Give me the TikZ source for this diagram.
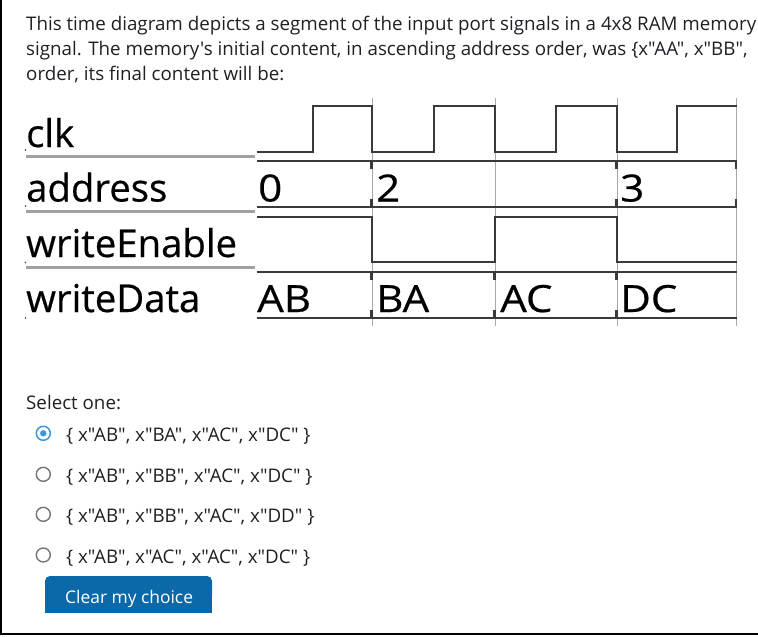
\documentclass[tikz,border=0pt]{standalone}
\usepackage{fontspec}
\setmainfont{Open Sans}[Ligatures=TeXOff]
\definecolor{txt}{HTML}{1D2125}
\definecolor{wavec}{HTML}{3A3A3A}
\definecolor{gridc}{HTML}{A8A8A8}
\definecolor{ulc}{HTML}{A0A0A0}
\definecolor{radioblue}{HTML}{3D97DA}
\definecolor{radiogray}{HTML}{757575}
\definecolor{btn}{HTML}{0B69A9}
\begin{document}
\begin{tikzpicture}[x=1pt,y=-1pt,
  body/.style={font=\fontsize{18.75}{24}\selectfont, text=txt, inner sep=0pt, anchor=base west},
  lbl/.style={font=\fontsize{38.3}{40}\selectfont\addfontfeature{FakeBold=0.5}, text=black, inner sep=0pt, anchor=base west},
  valt/.style={font=\fontsize{37.5}{40}\selectfont\addfontfeature{FakeBold=0.5}, text=black, inner sep=0pt, anchor=base west, xscale=1.12},
  wave/.style={draw=wavec, line width=1.8pt},
  gridl/.style={draw=gridc, line width=1pt},
  uline/.style={draw=ulc, line width=2.5pt},
  tickm/.style={draw=wavec, line width=2.2pt},
  radio/.style={draw=radiogray, line width=1.4pt},
]
\useasboundingbox (0,0) rectangle (758,637);
\fill[white] (0,0) rectangle (758,637);

% question text
\node[body] (t1) at (26,30.7) {This time diagram depicts a segment of the input port signals in a 4x8 RAM memory};
\node[body] (t2) at (26,55.3) {signal. The memory's initial content, in ascending address order, was \{x"AA", x"BB",};
\node[body] (t3) at (26,80) {order, its final content will be:};

% grid lines
\foreach \gx in {372.5,495.5,617.5,736.5}
  \draw[gridl] (\gx,98) -- (\gx,326);

% label underlines and dots
\draw[uline] (26,156.7) -- (255,156.7);
\draw[uline] (26,211.7) -- (255,211.7);
\draw[uline] (26,267.7) -- (255,267.7);
\foreach \dy in {150,206,262.5,318}
  \fill[wavec] (25.5,\dy) circle (0.9);

% signal names
\node[lbl] (lclk) at (26,147) {clk};
\node[lbl] (laddr) at (26,201.5) {address};
\node[lbl] (lwe) at (26,257) {writeEnable};
\node[lbl] (lwd) at (26,312) {writeData};

% clk
\draw[wave] (256.7,151.7) -| (313,105.7) -| (371.7,151.7) -| (434,105.7) -| (495,151.7)
  -| (556,105.7) -| (616.7,151.7) -| (676.7,105.7) -- (736.7,105.7);

% address bus
\draw[wave] (256.7,161) -- (736.7,161);
\draw[wave] (256.7,206.7) -- (736.7,206.7);
\foreach \tx in {371.5,616.5,736}{
  \draw[tickm] (\tx,161) -- (\tx,169);
  \draw[tickm] (\tx,198.7) -- (\tx,206.7);
}
\node[valt] (a0) at (258,201.5) {0};
\node[valt] (a2) at (376,201.5) {2};
\node[valt] (a3) at (620,201.5) {3};

% writeEnable
\draw[wave] (256.7,216.7) -| (371.7,261.7) -| (495,216.7) -| (616.7,261.7) -- (736.7,261.7);

% writeData bus
\draw[wave] (256.7,271.7) -- (736.7,271.7);
\draw[wave] (256.7,317.7) -- (736.7,317.7);
\foreach \tx in {371.5,494.5,616.5}{
  \draw[tickm] (\tx,271.7) -- (\tx,279.7);
  \draw[tickm] (\tx,309.7) -- (\tx,317.7);
}
\node[valt] (dab) at (257,312) {AB};
\node[valt] (dba) at (376,312) {BA};
\node[valt] (dac) at (500,312) {AC};
\node[valt] (ddc) at (620,312) {DC};

% answers
\node[body] (sel) at (26,409.3) {Select one:};
\draw[radioblue, line width=1.5pt] (43.3,433.3) circle (7);
\fill[radioblue] (43.3,433.3) circle (3.2);
\draw[radio] (43.3,474.3) circle (7);
\draw[radio] (43.3,514.3) circle (7);
\draw[radio] (43.3,555) circle (7);
\node[body] (o1) at (66,441.5) {\{ x"AB", x"BA", x"AC", x"DC" \}};
\node[body] (o2) at (66,482.5) {\{ x"AB", x"BB", x"AC", x"DC" \}};
\node[body] (o3) at (66,522.5) {\{ x"AB", x"BB", x"AC", x"DD" \}};
\node[body] (o4) at (66,563.2) {\{ x"AB", x"AC", x"AC", x"DC" \}};

% button
\fill[btn, rounded corners=5pt] (45,576) rectangle (212,600);
\fill[btn] (45,590) rectangle (212,613);
\node[body, text=white, font=\fontsize{17.4}{20}\selectfont] (clear) at (65,603.5) {Clear my choice};

% frame
\draw[black, line width=1.8pt] (0.9,0) -- (0.9,633.8) -- (758,633.8);
\end{tikzpicture}
\end{document}
